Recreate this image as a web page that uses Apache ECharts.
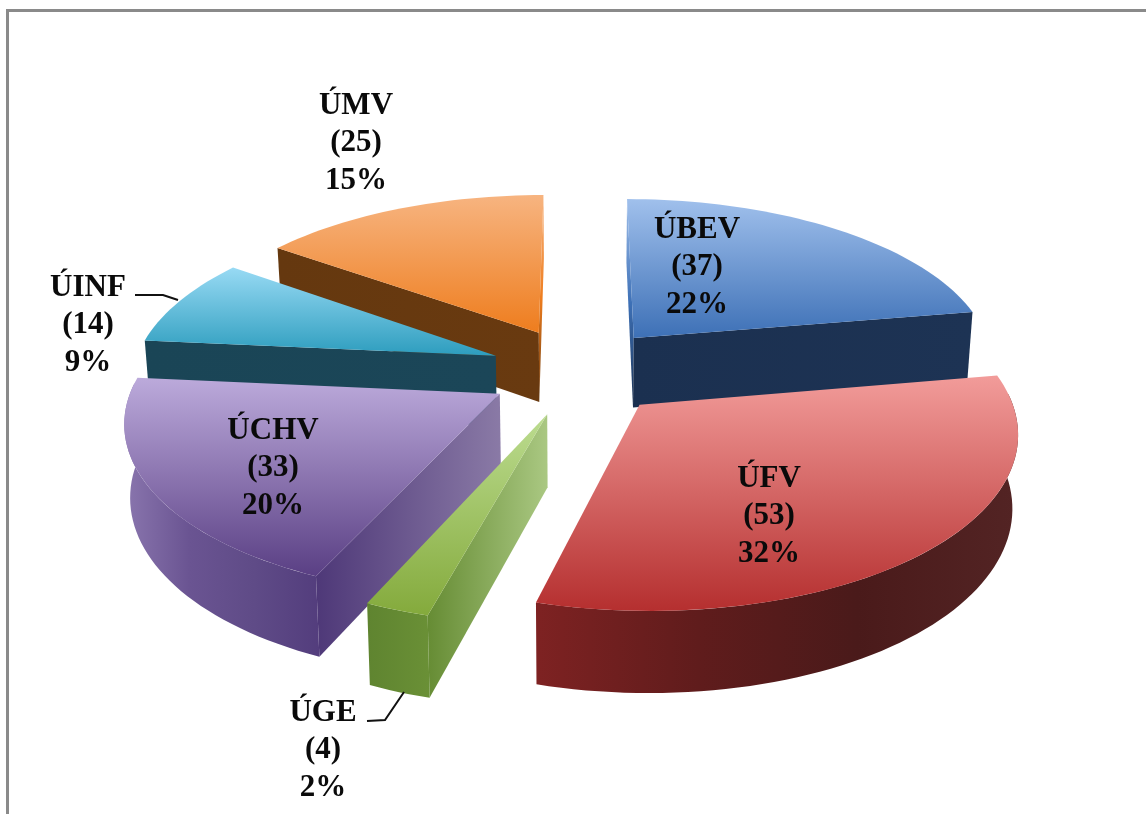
<!DOCTYPE html>
<html><head><meta charset="utf-8">
<style>html,body{margin:0;padding:0;background:#fff}#c{width:1146px;height:814px}</style>
<script src="https://cdn.jsdelivr.net/npm/echarts@6/dist/echarts.min.js"></script>
</head><body><div id="c"></div>
<script>
// ---- data (clockwise from the top of the pie) ----
const categories = ['ÚBEV','ÚFV','ÚGE','ÚCHV','ÚINF','ÚMV'];
const counts = [37,53,4,33,14,25];
const percentLabels = ['22%','32%','2%','20%','9%','15%'];

// ---- styles ----
const topColors = [['#a0c0ec','#3d70b6'],['#f29c9a','#b52f2f'],['#bcdc90','#84aa3c'],['#bcaadb','#5a3f84'],['#98daf4','#2d9dbe'],['#f7b480','#ee7d1e']];
const wallColors = [['#1b3050','#1d3354'],['#4a1c1c','#5a2020'],['#668c34','#aac882'],['#4e3878','#8a7aa6'],['#1a4556','#1b4658'],['#65380f','#693a10']];
const rimColors = [['#1b3050','#1b3050'],['#7e2222','#601c1c','#4a1a1a','#532424'],['#5f8430','#6a9036'],['#8a76ae','#6a5492','#5f4b87','#533d7d'],['#1a4556','#1a4556'],['#65380f','#65380f']];
const textStyleBase = {font:'bold 31px "Liberation Serif"',fill:'#0a0a0a',textAlign:'center',textVerticalAlign:'middle'};
const labelCenters = [[697,267],[769,516],[323,750],[273,468],[88,325],[356,143]];
const leaders = {'ÚINF':[[135,295],[163,295],[178,300]],'ÚGE':[[367,721],[385,720],[404,692]]};
const lineGap = 37.5;

// ---- projection of the tilted disc ----
const CX=578, CY=371, R=363, B=167, K=0.14, EXPLODE_X=0.245, EXPLODE_Y=0.265, DEPTH=71, SHRINK=0.987;
const total = counts.reduce((a,b)=>a+b,0);
function proj(X,Y,lower){
  const p=1/(1-K*Y);
  let x=R*X*p, y=B*Y*p;
  if(lower){ x*=SHRINK; y=y*SHRINK+DEPTH*p; }
  return [CX+x,CY+y];
}
function grad(dir,cols){
  const stops=cols.map((c,i)=>({offset:i/(cols.length-1),color:c}));
  return dir==='v'?new echarts.graphic.LinearGradient(0,0,0,1,stops):new echarts.graphic.LinearGradient(0,0,1,0,stops);
}
function renderItem(params,api){
  const i=params.dataIndex, value=api.value(0);
  let before=0; for(let j=0;j<i;j++) before+=counts[j];
  const a0=before/total*2*Math.PI, a1=a0+value/total*2*Math.PI, mid=(a0+a1)/2;
  const ox=EXPLODE_X*Math.sin(mid), oy=-EXPLODE_Y*Math.cos(mid);
  const pt=(r,a,low)=>proj(ox+r*Math.sin(a),oy-r*Math.cos(a),low);
  const z=Math.round((-Math.cos(mid)+1)*100);
  const kids=[];
  const arc=(from,to,low)=>{const o=[],n=Math.max(2,Math.ceil((to-from)/0.03));for(let s=0;s<=n;s++)o.push(pt(1,from+(to-from)*s/n,low));return o;};
  // cut walls
  [[a0,-1],[a1,1]].forEach(([a,sgn])=>{
    const ny=-Math.cos(a+sgn*Math.PI/2);
    if(ny>-0.05){
      const fill = ny<0.2 ? grad('v',[topColors[i][0],topColors[i][1],wallColors[i][0]]) : grad('h',wallColors[i]);
      kids.push({type:'polygon',z2:z,shape:{points:[pt(0,a),pt(1,a),pt(1,a,true),pt(0,a,true)]},style:{fill}});
    }
  });
  // outer rim
  const rf=Math.max(a0,Math.PI*0.48), rt=Math.min(a1,Math.PI*1.52);
  if(rt>rf){
    const t=arc(rf,rt,false), b=arc(rf,rt,true).reverse();
    kids.push({type:'polygon',z2:z+1,shape:{points:t.concat(b)},style:{fill:grad('h',rimColors[i])}});
  }
  // top face
  kids.push({type:'polygon',z2:z+2,shape:{points:[pt(0,a0)].concat(arc(a0,a1,false))},style:{fill:grad('v',topColors[i])}});
  // label
  const lc=labelCenters[i];
  [categories[i],'('+value+')',percentLabels[i]].forEach((s,n)=>{
    kids.push({type:'text',z2:1000,style:Object.assign({},textStyleBase,{text:s,x:lc[0],y:lc[1]+(n-1)*lineGap})});
  });
  if(leaders[categories[i]]){
    kids.push({type:'polyline',z2:999,shape:{points:leaders[categories[i]]},style:{stroke:'#111',lineWidth:2,fill:null}});
  }
  return {type:'group',children:kids};
}
const chart=echarts.init(document.getElementById('c'),null,{renderer:'canvas'});
chart.setOption({
  animation:false,backgroundColor:'#fff',
  graphic:[
    {type:'rect',silent:true,shape:{x:6,y:9,width:1140,height:3},style:{fill:'#8a8a8a'}},
    {type:'rect',silent:true,shape:{x:6,y:9,width:3,height:805},style:{fill:'#8a8a8a'}}
  ],
  series:[{type:'custom',coordinateSystem:'none',renderItem,silent:true,data:counts.map((v,i)=>({name:categories[i],value:[v]}))}]
});
</script></body></html>
